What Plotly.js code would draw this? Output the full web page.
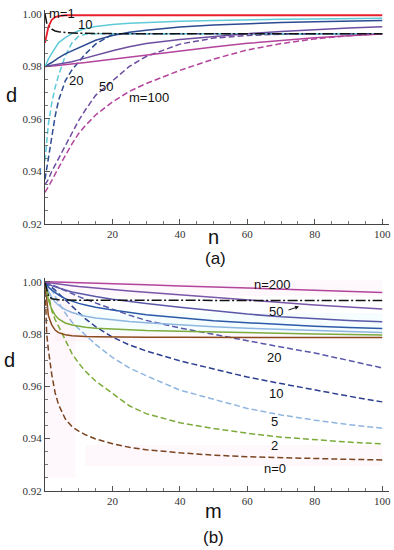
<!DOCTYPE html>
<html><head><meta charset="utf-8">
<script src="https://cdn.plot.ly/plotly-3.0.1.min.js"></script>
<style>html,body{margin:0;padding:0;background:#fff}#chart{width:394px;height:550px}</style>
</head><body><div id="chart"></div>
<script>
// ---------- Panel (a): d versus n ----------
const nA = [0, 0.5, 1, 2, 3, 4, 6, 8, 10, 12, 15, 20, 25, 30, 40, 50, 60, 70, 80, 90, 100];
const a_m1      = [0.989, 0.9925, 0.995, 0.9978, 0.9988, 0.9992, 0.9995, 0.9995, 0.9995, 0.9995, 0.9995, 0.9995, 0.9995, 0.9995, 0.9995, 0.9995, 0.9995, 0.9995, 0.9995, 0.9995, 0.9995];
const a_dashdot = [1.0, 0.9966, 0.9955, 0.9942, 0.9935, 0.9932, 0.9929, 0.9927, 0.9926, 0.9926, 0.9925, 0.9925, 0.9925, 0.9925, 0.9925, 0.9925, 0.9925, 0.9925, 0.9925, 0.9925, 0.9925];
const a_m10     = [0.980, 0.9815, 0.9828, 0.9850, 0.9872, 0.9890, 0.9910, 0.9925, 0.9936, 0.9944, 0.9952, 0.9960, 0.9965, 0.9968, 0.9972, 0.9975, 0.9978, 0.9980, 0.9981, 0.9983, 0.9984];
const a_m20     = [0.980, 0.9805, 0.9808, 0.9815, 0.9825, 0.9833, 0.9848, 0.9860, 0.9872, 0.9885, 0.9900, 0.9918, 0.9930, 0.9938, 0.9950, 0.9958, 0.9963, 0.9967, 0.9970, 0.9973, 0.9975];
const a_m50     = [0.980, 0.9801, 0.9802, 0.9804, 0.9806, 0.9808, 0.9812, 0.9818, 0.9825, 0.9832, 0.9843, 0.9860, 0.9875, 0.9887, 0.9903, 0.9915, 0.9925, 0.9933, 0.9940, 0.9946, 0.9951];
const a_m100    = [0.980, 0.980, 0.9801, 0.9802, 0.9803, 0.9804, 0.9806, 0.9809, 0.9812, 0.9815, 0.9820, 0.9828, 0.9836, 0.9844, 0.9860, 0.9874, 0.9888, 0.9899, 0.9909, 0.9917, 0.9924];
const a_m10d    = [0.944, 0.952, 0.958, 0.966, 0.972, 0.9765, 0.984, 0.989, 0.9915, 0.9923, 0.9925, 0.9925, 0.9925, 0.9925, 0.9925, 0.9925, 0.9925, 0.9925, 0.9925, 0.9925, 0.9925];
const a_m20d    = [0.937, 0.941, 0.945, 0.953, 0.961, 0.967, 0.9745, 0.9787, 0.9818, 0.9848, 0.9885, 0.9922, 0.9925, 0.9925, 0.9925, 0.9925, 0.9925, 0.9925, 0.9925, 0.9925, 0.9925];
const a_m50d    = [0.935, 0.936, 0.937, 0.940, 0.9425, 0.945, 0.950, 0.955, 0.9595, 0.9635, 0.969, 0.9745, 0.980, 0.9838, 0.9885, 0.9908, 0.9918, 0.9923, 0.9925, 0.9925, 0.9925];
const a_m100d   = [0.932, 0.933, 0.934, 0.9365, 0.939, 0.9415, 0.946, 0.9505, 0.9545, 0.9575, 0.9615, 0.9665, 0.9705, 0.9735, 0.9785, 0.9828, 0.9863, 0.9887, 0.9905, 0.9917, 0.9925];

// ---------- Panel (b): d versus m ----------
const mB = [0, 0.5, 1, 2, 3, 4, 6, 8, 10, 12, 15, 20, 25, 30, 40, 50, 60, 70, 80, 90, 100];
const b_n200    = [1.0, 1.0, 0.99995, 0.9999, 0.99988, 0.99985, 0.99978, 0.9997, 0.9996, 0.99953, 0.9994, 0.9992, 0.9990, 0.9988, 0.9984, 0.9980, 0.9976, 0.9971, 0.9967, 0.9963, 0.9959];
const b_n50     = [1.0, 0.9998, 0.9997, 0.9995, 0.9993, 0.9991, 0.9988, 0.9985, 0.9982, 0.9980, 0.9976, 0.9970, 0.9964, 0.9959, 0.9949, 0.9939, 0.9929, 0.9920, 0.9911, 0.9903, 0.9896];
const b_dashdot = [1.0, 0.9965, 0.9945, 0.9935, 0.9932, 0.9931, 0.9930, 0.9929, 0.9929, 0.9929, 0.9929, 0.9929, 0.9929, 0.9929, 0.9928, 0.9928, 0.9928, 0.9928, 0.9928, 0.9928, 0.9928];
const b_n20     = [1.0, 0.9995, 0.9991, 0.9985, 0.9980, 0.9976, 0.9968, 0.9961, 0.9955, 0.9950, 0.9943, 0.9933, 0.9924, 0.9917, 0.9902, 0.9888, 0.9876, 0.9866, 0.9858, 0.9852, 0.9847];
const b_n10     = [1.0, 0.999, 0.998, 0.9968, 0.9958, 0.9950, 0.9935, 0.9925, 0.9917, 0.9911, 0.9902, 0.9892, 0.9882, 0.9874, 0.9862, 0.9851, 0.9843, 0.9836, 0.9830, 0.9825, 0.9821];
const b_n5      = [1.0, 0.998, 0.9965, 0.9940, 0.9922, 0.9910, 0.9893, 0.9882, 0.9874, 0.9868, 0.9861, 0.9854, 0.9848, 0.9843, 0.9835, 0.9828, 0.9822, 0.9817, 0.9813, 0.9809, 0.9806];
const b_n2      = [1.0, 0.996, 0.993, 0.9895, 0.9872, 0.9858, 0.9842, 0.9834, 0.9829, 0.9826, 0.9822, 0.9819, 0.9816, 0.9813, 0.9810, 0.9807, 0.9804, 0.9802, 0.9800, 0.9798, 0.9796];
const b_n0      = [1.0, 0.992, 0.987, 0.9835, 0.9815, 0.9805, 0.9797, 0.9793, 0.9791, 0.9790, 0.9789, 0.9788, 0.9787, 0.9787, 0.9787, 0.9787, 0.9786, 0.9786, 0.9786, 0.9786, 0.9786];
const b_n20d    = [1.0, 0.9997, 0.9994, 0.9988, 0.9982, 0.9976, 0.9965, 0.9954, 0.9943, 0.9933, 0.9918, 0.9895, 0.9872, 0.9852, 0.9823, 0.9798, 0.9773, 0.9750, 0.9727, 0.9698, 0.9670];
const b_n10d    = [1.0, 0.9995, 0.999, 0.998, 0.9968, 0.9955, 0.993, 0.9905, 0.988, 0.9858, 0.9828, 0.9788, 0.9758, 0.9735, 0.9697, 0.9665, 0.9635, 0.9610, 0.9585, 0.9562, 0.9540];
const b_n5d     = [1.0, 0.9995, 0.999, 0.997, 0.9945, 0.992, 0.988, 0.9845, 0.982, 0.9795, 0.976, 0.971, 0.967, 0.964, 0.9585, 0.955, 0.9515, 0.949, 0.947, 0.9453, 0.9439];
const b_n2d     = [1.0, 0.998, 0.9955, 0.989, 0.9855, 0.983, 0.9775, 0.9725, 0.9688, 0.9657, 0.962, 0.9572, 0.9525, 0.9495, 0.946, 0.9438, 0.942, 0.9405, 0.9395, 0.9386, 0.9379];
const b_n0d     = [1.0, 0.980, 0.974, 0.9645, 0.9575, 0.953, 0.9475, 0.9445, 0.9428, 0.9414, 0.9398, 0.938, 0.9366, 0.9357, 0.9345, 0.9336, 0.933, 0.9326, 0.9322, 0.932, 0.9318];

const yTicks = [0.92, 0.94, 0.96, 0.98, 1.00];
const xTicks = [20, 40, 60, 80, 100];

const DASH = '6px,3px';
const DASHDOT = '10px,2.5px,2px,2.5px';

function tr(x, y, color, dash, w, xa, ya) {
  return {x: x, y: y, type: 'scatter', mode: 'lines', xaxis: xa, yaxis: ya,
    line: {color: color, width: w, dash: dash}, hoverinfo: 'skip', showlegend: false};
}

const traces = [
  // panel a
  tr(nA, a_m100d, '#b3449c', DASH, 1.5, 'x', 'y'),
  tr(nA, a_m50d, '#6c4ea0', DASH, 1.5, 'x', 'y'),
  tr(nA, a_m20d, '#2d4b91', DASH, 1.5, 'x', 'y'),
  tr(nA, a_m10d, '#5fcad8', DASH, 1.5, 'x', 'y'),
  tr(nA, a_m100, '#b3449c', 'solid', 1.5, 'x', 'y'),
  tr(nA, a_m50, '#6c4ea0', 'solid', 1.5, 'x', 'y'),
  tr(nA, a_m20, '#2d4b91', 'solid', 1.5, 'x', 'y'),
  tr(nA, a_m10, '#5fcad8', 'solid', 1.5, 'x', 'y'),
  tr(nA, a_dashdot, '#111111', DASHDOT, 1.5, 'x', 'y'),
  tr(nA, a_m1, '#e8202e', 'solid', 1.8, 'x', 'y'),
  // panel b
  tr(mB, b_n0d, '#7a4420', DASH, 1.5, 'x2', 'y2'),
  tr(mB, b_n2d, '#7cab3c', DASH, 1.5, 'x2', 'y2'),
  tr(mB, b_n5d, '#8fb6e0', DASH, 1.5, 'x2', 'y2'),
  tr(mB, b_n10d, '#2c3f8f', DASH, 1.5, 'x2', 'y2'),
  tr(mB, b_n20d, '#5a58a8', DASH, 1.5, 'x2', 'y2'),
  tr(mB, b_n0, '#8a4a1e', 'solid', 1.5, 'x2', 'y2'),
  tr(mB, b_n2, '#7cab3c', 'solid', 1.5, 'x2', 'y2'),
  tr(mB, b_n5, '#8fb6e0', 'solid', 1.5, 'x2', 'y2'),
  tr(mB, b_n10, '#2d5aa8', 'solid', 1.5, 'x2', 'y2'),
  tr(mB, b_n20, '#5a58a8', 'solid', 1.5, 'x2', 'y2'),
  tr(mB, b_n50, '#7a56a8', 'solid', 1.5, 'x2', 'y2'),
  tr(mB, b_dashdot, '#111111', DASHDOT, 1.5, 'x2', 'y2'),
  tr(mB, b_n200, '#b3449c', 'solid', 1.5, 'x2', 'y2')
];

const W = 394, H = 550;
const px = v => v / W;
const py = v => 1 - v / H;

const tickFont = {family: 'Liberation Serif', size: 11, color: '#333'};
function xaxisDef(anchor) {
  return {anchor: anchor, domain: [px(45), px(389)], range: [0, 102], showline: true, linecolor: '#444', linewidth: 1,
    showgrid: false, zeroline: false, ticks: 'inside', ticklen: 5, tickcolor: '#555', tickwidth: 1,
    tickmode: 'array', tickvals: xTicks, ticktext: xTicks.map(String), tickfont: tickFont,
    minor: {tickmode: 'linear', tick0: 0, dtick: 5, ticks: 'inside', ticklen: 3, tickcolor: '#777', tickwidth: 1, showgrid: false}};
}
function yaxisDef(anchor, top, bottom) {
  return {anchor: anchor, domain: [py(bottom), py(top)], range: [0.92, 1.0015], showline: true, linecolor: '#444', linewidth: 1,
    showgrid: false, zeroline: false, ticks: 'inside', ticklen: 5, tickcolor: '#555', tickwidth: 1,
    tickmode: 'array', tickvals: yTicks, ticktext: yTicks.map(v => v.toFixed(2)), tickfont: tickFont,
    minor: {tickmode: 'linear', tick0: 0.92, dtick: 0.005, ticks: 'inside', ticklen: 3, tickcolor: '#777', tickwidth: 1, showgrid: false}};
}

function lab(text, x, y, size, family) {
  return {text: text, xref: 'paper', yref: 'paper', x: px(x), y: py(y), xanchor: 'center', yanchor: 'middle',
    showarrow: false, font: {family: family || 'Liberation Sans, Arial, sans-serif', size: size || 13, color: '#111'}};
}

const annotations = [
  lab('d', 11, 95, 20), lab('n', 213, 237, 20), lab('(a)', 215, 258, 17),
  lab('d', 9, 360, 20), lab('m', 213, 511, 20), lab('(b)', 213, 537, 17),
  lab('m=1', 62, 13), lab('10', 85, 25), lab('20', 76, 80), lab('50', 106, 86), lab('m=100', 149, 97),
  lab('n=200', 272, 284), lab('50', 276, 311), lab('20', 274, 357), lab('10', 276, 393),
  lab('5', 274, 422), lab('2', 274, 445), lab('n=0', 275, 468),
  {xref: 'paper', yref: 'paper', x: px(299), y: py(306.5), ax: -12, ay: 4, axref: 'pixel', ayref: 'pixel', text: '',
   showarrow: true, arrowhead: 2, arrowsize: 0.8, arrowwidth: 1, arrowcolor: '#111'}
];

// faint highlight patches behind panel (b)
const pink = 'rgba(250,215,240,0.18)', cyan = 'rgba(210,245,250,0.22)';
function patch(x0, x1, y0, y1, c) {
  return {type: 'rect', xref: 'x2', yref: 'y2', x0: x0, x1: x1, y0: y0, y1: y1, fillcolor: c, line: {width: 0}, layer: 'below'};
}
const shapes = [
  patch(0, 9, 0.925, 0.9945, pink),
  patch(0, 100, 0.9945, 1.0005, pink),
  patch(3, 100, 0.9772, 0.9805, pink),
  patch(9, 100, 0.9805, 0.988, cyan),
  patch(12, 100, 0.9295, 0.9375, pink)
];

const layout = {
  width: W, height: H, margin: {l: 0, r: 0, t: 0, b: 0}, paper_bgcolor: '#fff', plot_bgcolor: 'rgba(0,0,0,0)',
  showlegend: false,
  xaxis: xaxisDef('y'), yaxis: yaxisDef('x', 10, 224),
  xaxis2: xaxisDef('y2'), yaxis2: yaxisDef('x2', 277.8, 490.7),
  annotations: annotations, shapes: shapes
};

Plotly.newPlot('chart', traces, layout, {displayModeBar: false, staticPlot: true});
</script></body></html>
